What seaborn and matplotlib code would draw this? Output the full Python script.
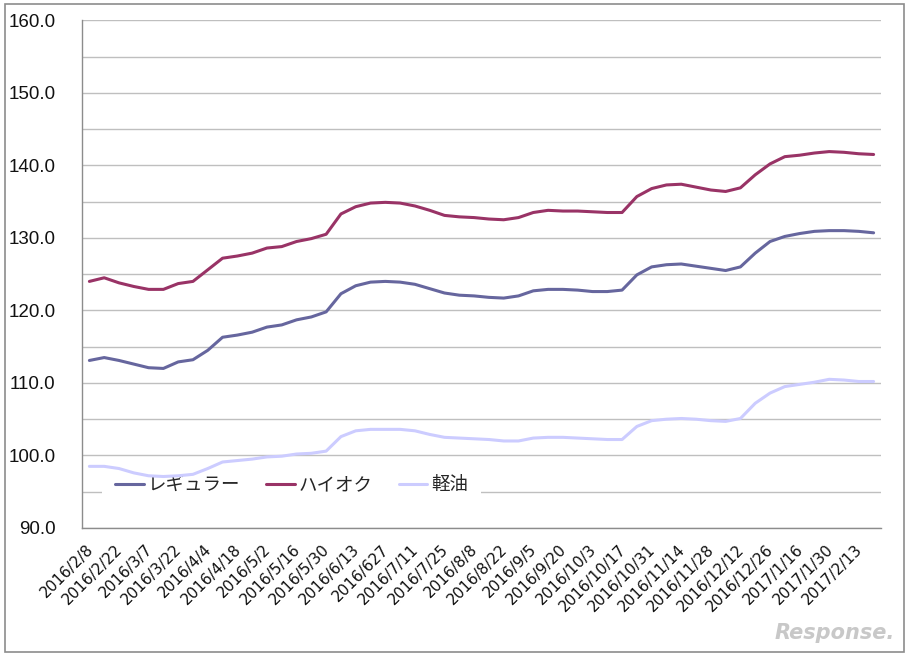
import matplotlib
matplotlib.use("Agg")
import matplotlib.pyplot as plt
import matplotlib.transforms as mtransforms
from matplotlib.patches import Rectangle
from matplotlib.ticker import FixedLocator
import seaborn as sns
import pandas as pd
import numpy as np

dates = ["2016/2/8", "2016/2/15", "2016/2/22", "2016/2/29", "2016/3/7", "2016/3/14",
         "2016/3/22", "2016/3/28", "2016/4/4", "2016/4/11", "2016/4/18", "2016/4/25",
         "2016/5/2", "2016/5/9", "2016/5/16", "2016/5/23", "2016/5/30", "2016/6/6",
         "2016/6/13", "2016/6/20", "2016/627", "2016/7/4", "2016/7/11", "2016/7/19",
         "2016/7/25", "2016/8/1", "2016/8/8", "2016/8/15", "2016/8/22", "2016/8/29",
         "2016/9/5", "2016/9/12", "2016/9/20", "2016/9/26", "2016/10/3", "2016/10/11",
         "2016/10/17", "2016/10/24", "2016/10/31", "2016/11/7", "2016/11/14", "2016/11/21",
         "2016/11/28", "2016/12/5", "2016/12/12", "2016/12/19", "2016/12/26", "2017/1/10",
         "2017/1/16", "2017/1/23", "2017/1/30", "2017/2/6", "2017/2/13", "2017/2/20"]

regular = [113.1, 113.5, 113.1, 112.6, 112.1, 112.0, 112.9, 113.2, 114.5, 116.3,
           116.6, 117.0, 117.7, 118.0, 118.7, 119.1, 119.8, 122.3, 123.4, 123.9,
           124.0, 123.9, 123.6, 123.0, 122.4, 122.1, 122.0, 121.8, 121.7, 122.0,
           122.7, 122.9, 122.9, 122.8, 122.6, 122.6, 122.8, 124.9, 126.0, 126.3,
           126.4, 126.1, 125.8, 125.5, 126.0, 127.9, 129.5, 130.2, 130.6, 130.9,
           131.0, 131.0, 130.9, 130.7]

high_octane = [124.0, 124.5, 123.8, 123.3, 122.9, 122.9, 123.7, 124.0, 125.6, 127.2,
               127.5, 127.9, 128.6, 128.8, 129.5, 129.9, 130.5, 133.3, 134.3, 134.8,
               134.9, 134.8, 134.4, 133.8, 133.1, 132.9, 132.8, 132.6, 132.5, 132.8,
               133.5, 133.8, 133.7, 133.7, 133.6, 133.5, 133.5, 135.7, 136.8, 137.3,
               137.4, 137.0, 136.6, 136.4, 136.9, 138.7, 140.2, 141.2, 141.4, 141.7,
               141.9, 141.8, 141.6, 141.5]

diesel = [98.5, 98.5, 98.2, 97.6, 97.2, 97.1, 97.2, 97.4, 98.2, 99.1,
          99.3, 99.5, 99.8, 99.9, 100.2, 100.3, 100.6, 102.6, 103.4, 103.6,
          103.6, 103.6, 103.4, 102.9, 102.5, 102.4, 102.3, 102.2, 102.0, 102.0,
          102.4, 102.5, 102.5, 102.4, 102.3, 102.2, 102.2, 104.0, 104.8, 105.0,
          105.1, 105.0, 104.8, 104.7, 105.1, 107.2, 108.6, 109.5, 109.8, 110.1,
          110.5, 110.4, 110.2, 110.2]

series_names = ["レギュラー", "ハイオク", "軽油"]
colors = ["#66669E", "#993366", "#CCCCFF"]
tick_labels = dates[::2]

sns.set_theme(style="white")
plt.rcParams["font.family"] = ["DejaVu Sans", "Noto Sans CJK JP"]

idx = np.arange(len(dates))
df = pd.DataFrame({
    "idx": np.concatenate([idx, idx, idx]),
    "price": regular + high_octane + diesel,
    "series": [series_names[0]] * len(dates) + [series_names[1]] * len(dates)
              + [series_names[2]] * len(dates),
})

fig = plt.figure(figsize=(9.1, 6.56), dpi=100)
ax = fig.add_axes([82 / 910, 1 - 528 / 656, (881 - 82) / 910, (528 - 20.3) / 656])

sns.lineplot(data=df, x="idx", y="price", hue="series", hue_order=series_names,
             palette=colors, linewidth=2.2, ax=ax, sort=False, legend=False)

ax.set_xlim(-0.5, len(dates) - 0.5)
ax.set_ylim(90, 160)
ax.set_xlabel("")
ax.set_ylabel("")

major = np.arange(90, 161, 10)
minor = np.arange(95, 160, 10)
ax.yaxis.set_major_locator(FixedLocator(major))
ax.yaxis.set_minor_locator(FixedLocator(minor))
ax.set_yticklabels([f"{v:.1f}" for v in major], fontsize=13.5, color="#111111",
                   family=["Liberation Sans", "DejaVu Sans"])
ax.grid(True, axis="y", which="both", color="#BFBFBF", linewidth=1.0)
ax.grid(False, axis="x")
ax.tick_params(axis="y", which="both", length=0, pad=19)
ax.set_axisbelow(True)

ax.set_xticks(idx[::2])
ax.set_xticklabels(tick_labels, rotation=45, ha="right", rotation_mode="anchor",
                   fontsize=11, color="#111111")
ax.tick_params(axis="x", length=0, pad=10)
offset = mtransforms.ScaledTranslation(-4 / 100, 0, fig.dpi_scale_trans)
for lab in ax.get_xticklabels():
    lab.set_transform(lab.get_transform() + offset)

for side in ["top", "right"]:
    ax.spines[side].set_visible(False)
for side in ["left", "bottom"]:
    ax.spines[side].set_color("#8C8C8C")
    ax.spines[side].set_linewidth(1.0)

handles = [plt.Line2D([], [], color=c, linewidth=2.2) for c in colors]
leg = ax.legend(handles, series_names, loc="center left",
                bbox_to_anchor=(20 / 799, 0.0846), ncol=3, fontsize=13.3,
                frameon=True, framealpha=1, facecolor="white", edgecolor="none",
                handlelength=1.55, handletextpad=0.22, columnspacing=1.4,
                borderpad=0.7, borderaxespad=0)
leg.get_frame().set_linewidth(0)
leg.set_zorder(1)

fig.patches.append(Rectangle((5 / 910, 4 / 656), 899 / 910, 648 / 656,
                             transform=fig.transFigure, fill=False,
                             edgecolor="#8C8C8C", linewidth=1.2))
fig.text(895 / 910, 1 - 633 / 656, "Response.", ha="right", va="center",
         fontsize=15, color="#C8C8C8", style="italic", fontweight="bold")

fig.savefig("out.png", dpi=100)
